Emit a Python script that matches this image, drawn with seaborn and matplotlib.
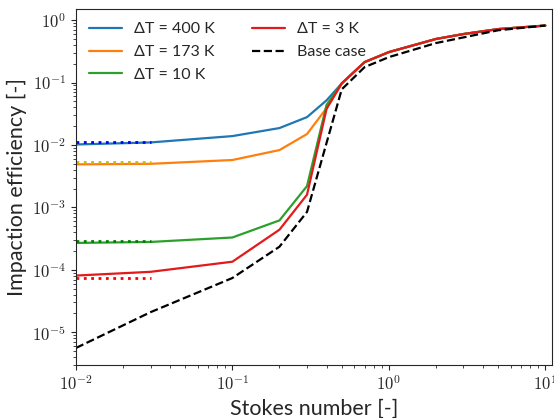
import numpy as np
import pandas as pd
import seaborn as sns
import matplotlib.pyplot as plt
from matplotlib.ticker import FuncFormatter

# Stokes numbers and impaction efficiencies
stokes = [0.01, 0.03, 0.1, 0.2, 0.3, 0.4, 0.5, 0.7, 1, 2, 3, 5, 10]
stokes_base = [0.01, 0.03, 0.1, 0.2, 0.3, 0.5, 0.7, 1, 2, 3, 5, 10]

eff_400 = [1.02e-2, 1.1e-2, 1.39e-2, 1.87e-2, 2.8e-2, 5.2e-2, 0.097, 0.213, 0.308, 0.5, 0.6, 0.72, 0.82]
eff_173 = [4.9e-3, 5.0e-3, 5.75e-3, 8.3e-3, 1.5e-2, 3.9e-2, 0.097, 0.213, 0.308, 0.5, 0.6, 0.72, 0.82]
eff_10 = [2.7e-4, 2.8e-4, 3.3e-4, 6.2e-4, 2.2e-3, 4.4e-2, 0.097, 0.213, 0.308, 0.5, 0.6, 0.72, 0.82]
eff_3 = [8.1e-5, 9.3e-5, 1.35e-4, 4.4e-4, 1.6e-3, 3.8e-2, 0.097, 0.213, 0.308, 0.5, 0.6, 0.72, 0.82]
eff_base = [5.6e-6, 2.1e-5, 7.4e-5, 2.35e-4, 8.5e-4, 0.078, 0.177, 0.256, 0.43, 0.53, 0.69, 0.82]

# low-Stokes reference levels (dotted)
stokes_ref = [0.01, 0.03]
ref_400 = [1.1e-2, 1.1e-2]
ref_173 = [5.4e-3, 5.4e-3]
ref_10 = [2.9e-4, 2.9e-4]
ref_3 = [7.5e-5, 7.5e-5]

sns.set_style('ticks')
plt.rcParams['font.family'] = ['Lato', 'DejaVu Sans']
plt.rcParams['mathtext.fontset'] = 'cm'

fig = plt.figure(figsize=(5.54, 4.18), dpi=100)
ax = fig.add_axes([0.137, 0.127, 0.859, 0.851])
ax.set_xscale('log')
ax.set_yscale('log')

sns.lineplot(x=stokes, y=eff_400, color='tab:blue', lw=1.6, label='ΔT = 400 K', ax=ax)
sns.lineplot(x=stokes, y=eff_173, color='tab:orange', lw=1.6, label='ΔT = 173 K', ax=ax)
sns.lineplot(x=stokes, y=eff_10, color='tab:green', lw=1.6, label='ΔT = 10 K', ax=ax)
sns.lineplot(x=stokes, y=eff_3, color='#e31a1c', lw=1.6, label='ΔT = 3 K', ax=ax)
sns.lineplot(x=stokes_base, y=eff_base, color='black', lw=1.6, linestyle='--',
             label='Base case', ax=ax)

ax.plot(stokes_ref, ref_400, 'b:', lw=2)
ax.plot(stokes_ref, ref_173, 'y:', lw=2)
ax.plot(stokes_ref, ref_10, 'g:', lw=2)
ax.plot(stokes_ref, ref_3, 'r:', lw=2)

ax.set_xlim(0.01, 11)
ax.set_ylim(3e-6, 1.5)
ax.set_xlabel('Stokes number [-]', fontsize=15.5)
ax.set_ylabel('Impaction efficiency [-]', fontsize=15.5)

pow10 = FuncFormatter(lambda v, pos: r'$10^{%d}$' % round(np.log10(v)))
ax.xaxis.set_major_formatter(pow10)
ax.yaxis.set_major_formatter(pow10)
ax.tick_params(labelsize=12)

ax.legend(loc='upper left', ncol=2, frameon=False, fontsize=11.5,
          handlelength=2.1, handletextpad=0.75, columnspacing=2.3,
          labelspacing=0.55, borderaxespad=0.4)

fig.savefig('out.png', dpi=100)
